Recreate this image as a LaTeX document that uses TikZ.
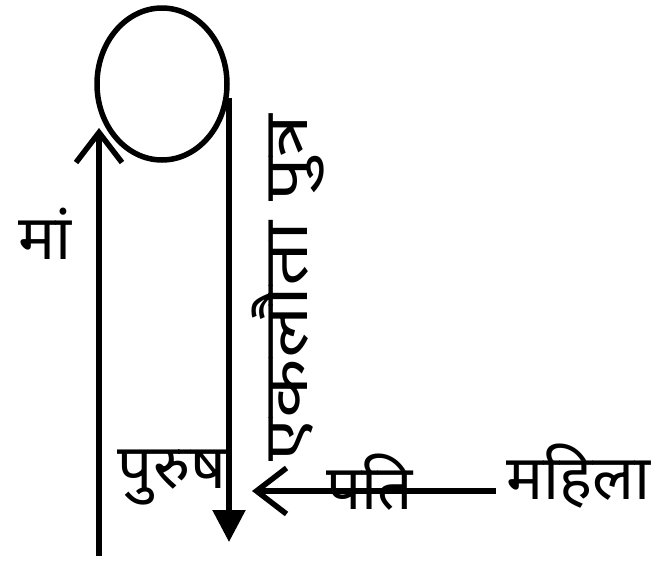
\documentclass[tikz,border=0pt]{standalone}
\usepackage{fontspec}
\newfontfamily\deva[Script=Devanagari]{Noto Sans}
\usetikzlibrary{arrows.meta,shapes.geometric}
\begin{document}
\begin{tikzpicture}[x=1pt,y=-1pt,
  lbl/.style={font=\deva\fontsize{62}{70}\selectfont, inner sep=0pt},
  conn/.style={line width=5.5pt},
  barb/.style={-{Straight Barb[length=30pt,width=46pt,line width=5.5pt]}},
  tri/.style={-{Triangle[length=32pt,width=32pt]}}]
\useasboundingbox (0,0) rectangle (663,568);
\node[draw, line width=5.5pt, ellipse, minimum width=130pt, minimum height=152pt, inner sep=0pt] (loop) at (162,84) {};
\coordinate (lbot) at (99,556);
\coordinate (ltop) at (99,128);
\coordinate (rtop) at (229,98);
\coordinate (rbot) at (229,542);
\coordinate (htip) at (252,491);
\node[lbl, anchor=west] (mahila) at (506,476) {महिला};
\node[lbl] (pati) at (370,482) {पति};
\node[lbl] (purush) at (172,478) {पुरुष};
\node[lbl] (maa) at (45,234) {मां};
\node[lbl, rotate=90, xscale=1.25] (putra) at (288,288) {एकलौता पुत्र};
\draw[conn, barb] (lbot) -- (ltop);
\draw[conn, tri] (rtop) -- (rbot);
\draw[conn, barb] (mahila.west) ++(-10,15) coordinate (hstart) (hstart) -- (htip);
\end{tikzpicture}
\end{document}
